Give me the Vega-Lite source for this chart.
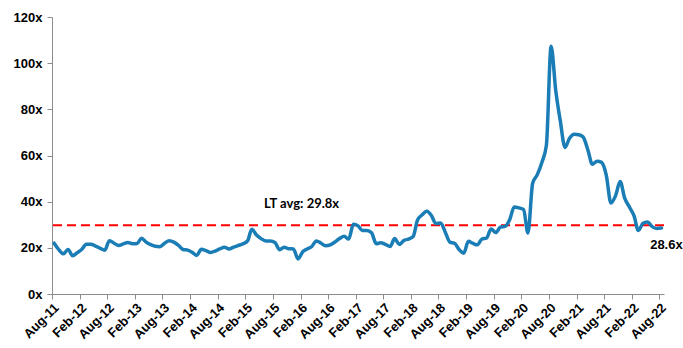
{
  "$schema": "https://vega.github.io/schema/vega-lite/v6.json",
  "width": 612,
  "height": 277,
  "autosize": {"type": "none"},
  "padding": {"left": 52, "top": 17, "right": 19, "bottom": 54},
  "background": "white",
  "config": {
    "view": {"stroke": null},
    "axis": {
      "grid": false,
      "labelFont": "Liberation Sans",
      "labelFontWeight": "bold",
      "labelColor": "#000000",
      "domainColor": "#8c8c8c",
      "tickColor": "#8c8c8c",
      "tickSize": 5,
      "title": null
    }
  },
  "datasets": {
    "pe": [
      {"date": "2011-08-15", "pe": 22.0}, {"date": "2011-09-15", "pe": 19.2}, {"date": "2011-10-15", "pe": 17.4}, {"date": "2011-11-15", "pe": 19.3}, {"date": "2011-12-15", "pe": 16.6},
      {"date": "2012-01-15", "pe": 17.9}, {"date": "2012-02-15", "pe": 19.4}, {"date": "2012-03-15", "pe": 21.6}, {"date": "2012-04-15", "pe": 21.6}, {"date": "2012-05-15", "pe": 20.7}, {"date": "2012-06-15", "pe": 19.8},
      {"date": "2012-07-15", "pe": 19.0}, {"date": "2012-08-15", "pe": 23.1}, {"date": "2012-09-15", "pe": 22.0}, {"date": "2012-10-15", "pe": 21.0}, {"date": "2012-11-15", "pe": 21.7}, {"date": "2012-12-15", "pe": 22.3},
      {"date": "2013-01-15", "pe": 21.8}, {"date": "2013-02-15", "pe": 21.9}, {"date": "2013-03-15", "pe": 24.2}, {"date": "2013-04-15", "pe": 22.5}, {"date": "2013-05-15", "pe": 21.4}, {"date": "2013-06-15", "pe": 20.7},
      {"date": "2013-07-15", "pe": 20.5}, {"date": "2013-08-15", "pe": 22.0}, {"date": "2013-09-15", "pe": 23.1}, {"date": "2013-10-15", "pe": 22.5}, {"date": "2013-11-15", "pe": 21.1}, {"date": "2013-12-15", "pe": 19.3},
      {"date": "2014-01-15", "pe": 19.0}, {"date": "2014-02-15", "pe": 18.0}, {"date": "2014-03-15", "pe": 16.7}, {"date": "2014-04-15", "pe": 19.4}, {"date": "2014-05-15", "pe": 18.8}, {"date": "2014-06-15", "pe": 18.0},
      {"date": "2014-07-15", "pe": 18.6}, {"date": "2014-08-15", "pe": 19.5}, {"date": "2014-09-15", "pe": 20.3}, {"date": "2014-10-15", "pe": 19.5}, {"date": "2014-11-15", "pe": 20.3}, {"date": "2014-12-15", "pe": 21.0},
      {"date": "2015-01-15", "pe": 21.7}, {"date": "2015-02-15", "pe": 23.0}, {"date": "2015-03-15", "pe": 28.0}, {"date": "2015-04-15", "pe": 25.6}, {"date": "2015-05-15", "pe": 24.0}, {"date": "2015-06-15", "pe": 23.0},
      {"date": "2015-07-15", "pe": 23.0}, {"date": "2015-08-15", "pe": 22.3}, {"date": "2015-09-15", "pe": 19.2}, {"date": "2015-10-15", "pe": 20.3}, {"date": "2015-11-15", "pe": 19.6}, {"date": "2015-12-15", "pe": 19.5},
      {"date": "2016-01-15", "pe": 15.2}, {"date": "2016-02-15", "pe": 18.3}, {"date": "2016-03-15", "pe": 19.5}, {"date": "2016-04-15", "pe": 20.6}, {"date": "2016-05-15", "pe": 23.0}, {"date": "2016-06-15", "pe": 22.0},
      {"date": "2016-07-15", "pe": 20.9}, {"date": "2016-08-15", "pe": 21.3}, {"date": "2016-09-15", "pe": 22.5}, {"date": "2016-10-15", "pe": 24.0}, {"date": "2016-11-15", "pe": 25.0}, {"date": "2016-12-15", "pe": 23.8},
      {"date": "2017-01-15", "pe": 30.2}, {"date": "2017-02-15", "pe": 29.5}, {"date": "2017-03-15", "pe": 27.5}, {"date": "2017-04-15", "pe": 27.5}, {"date": "2017-05-15", "pe": 26.5}, {"date": "2017-06-15", "pe": 21.8},
      {"date": "2017-07-15", "pe": 22.2}, {"date": "2017-08-15", "pe": 21.5}, {"date": "2017-09-15", "pe": 20.6}, {"date": "2017-10-15", "pe": 24.0}, {"date": "2017-11-15", "pe": 21.5}, {"date": "2017-12-15", "pe": 23.2},
      {"date": "2018-01-15", "pe": 23.8}, {"date": "2018-02-15", "pe": 25.0}, {"date": "2018-03-15", "pe": 32.0}, {"date": "2018-04-15", "pe": 34.3}, {"date": "2018-05-15", "pe": 35.8}, {"date": "2018-06-15", "pe": 34.0},
      {"date": "2018-07-15", "pe": 30.5}, {"date": "2018-08-15", "pe": 30.8}, {"date": "2018-09-15", "pe": 26.8}, {"date": "2018-10-15", "pe": 22.5}, {"date": "2018-11-15", "pe": 22.0}, {"date": "2018-12-15", "pe": 19.3},
      {"date": "2019-01-15", "pe": 17.7}, {"date": "2019-02-15", "pe": 22.8}, {"date": "2019-03-15", "pe": 22.0}, {"date": "2019-04-15", "pe": 21.3}, {"date": "2019-05-15", "pe": 23.8}, {"date": "2019-06-15", "pe": 24.2},
      {"date": "2019-07-15", "pe": 28.2}, {"date": "2019-08-15", "pe": 26.6}, {"date": "2019-09-15", "pe": 29.0}, {"date": "2019-10-15", "pe": 29.3}, {"date": "2019-11-15", "pe": 32.2}, {"date": "2019-12-15", "pe": 37.7},
      {"date": "2020-01-15", "pe": 37.3}, {"date": "2020-02-15", "pe": 36.5}, {"date": "2020-03-15", "pe": 26.4}, {"date": "2020-04-15", "pe": 48.0}, {"date": "2020-05-15", "pe": 51.6}, {"date": "2020-06-15", "pe": 57.0},
      {"date": "2020-07-15", "pe": 64.5}, {"date": "2020-08-15", "pe": 107.3}, {"date": "2020-09-15", "pe": 88.0}, {"date": "2020-10-15", "pe": 75.0}, {"date": "2020-11-15", "pe": 63.5}, {"date": "2020-12-15", "pe": 67.5},
      {"date": "2021-01-15", "pe": 69.2}, {"date": "2021-02-15", "pe": 69.0}, {"date": "2021-03-15", "pe": 68.0}, {"date": "2021-04-15", "pe": 62.5}, {"date": "2021-05-15", "pe": 56.2}, {"date": "2021-06-15", "pe": 57.5},
      {"date": "2021-07-15", "pe": 57.0}, {"date": "2021-08-15", "pe": 51.5}, {"date": "2021-09-15", "pe": 39.4}, {"date": "2021-10-15", "pe": 42.5}, {"date": "2021-11-15", "pe": 48.7}, {"date": "2021-12-15", "pe": 41.5},
      {"date": "2022-01-15", "pe": 37.7}, {"date": "2022-02-15", "pe": 33.8}, {"date": "2022-03-15", "pe": 27.5}, {"date": "2022-04-15", "pe": 30.6}, {"date": "2022-05-15", "pe": 31.2}, {"date": "2022-06-15", "pe": 29.2},
      {"date": "2022-07-15", "pe": 28.4}, {"date": "2022-08-15", "pe": 28.6}
    ],
    "avg": [{"date": "2016-02-07", "pe": 29.8, "label": "LT avg: 29.8x"}],
    "latest": [{"date": "2022-08-15", "pe": 28.6, "label": "28.6x"}]
  },
  "encoding": {
    "x": {
      "field": "date",
      "type": "temporal",
      "scale": {
        "type": "utc",
        "domain": [
          {"year": 2011, "month": "aug", "date": 1, "utc": true},
          {"year": 2022, "month": "sep", "date": 1, "utc": true}
        ]
      },
      "axis": {
        "values": [
          {"year": 2011, "month": "aug", "date": 1, "utc": true},
          {"year": 2012, "month": "feb", "date": 1, "utc": true},
          {"year": 2012, "month": "aug", "date": 1, "utc": true},
          {"year": 2013, "month": "feb", "date": 1, "utc": true},
          {"year": 2013, "month": "aug", "date": 1, "utc": true},
          {"year": 2014, "month": "feb", "date": 1, "utc": true},
          {"year": 2014, "month": "aug", "date": 1, "utc": true},
          {"year": 2015, "month": "feb", "date": 1, "utc": true},
          {"year": 2015, "month": "aug", "date": 1, "utc": true},
          {"year": 2016, "month": "feb", "date": 1, "utc": true},
          {"year": 2016, "month": "aug", "date": 1, "utc": true},
          {"year": 2017, "month": "feb", "date": 1, "utc": true},
          {"year": 2017, "month": "aug", "date": 1, "utc": true},
          {"year": 2018, "month": "feb", "date": 1, "utc": true},
          {"year": 2018, "month": "aug", "date": 1, "utc": true},
          {"year": 2019, "month": "feb", "date": 1, "utc": true},
          {"year": 2019, "month": "aug", "date": 1, "utc": true},
          {"year": 2020, "month": "feb", "date": 1, "utc": true},
          {"year": 2020, "month": "aug", "date": 1, "utc": true},
          {"year": 2021, "month": "feb", "date": 1, "utc": true},
          {"year": 2021, "month": "aug", "date": 1, "utc": true},
          {"year": 2022, "month": "feb", "date": 1, "utc": true},
          {"year": 2022, "month": "aug", "date": 1, "utc": true}
        ],
        "labelExpr": "utcFormat(datum.value, '%b-%y')",
        "labelAngle": -45,
        "labelFontSize": 13,
        "labelPadding": 2,
        "labelOverlap": false,
        "labelBound": false,
        "labelFlush": false
      }
    },
    "y": {
      "field": "pe",
      "type": "quantitative",
      "scale": {"domain": [0, 120], "nice": false},
      "axis": {
        "values": [0, 20, 40, 60, 80, 100, 120],
        "labelExpr": "datum.value + 'x'",
        "labelFontSize": 13,
        "labelPadding": 5
      }
    }
  },
  "layer": [
    {
      "data": {"name": "avg"},
      "mark": {"type": "rule", "color": "#ff0000", "strokeWidth": 2, "strokeDash": [9, 5]},
      "encoding": {"x": null, "y": {"field": "pe", "type": "quantitative"}}
    },
    {
      "data": {"name": "pe"},
      "mark": {"type": "line", "color": "#1a7db5", "strokeWidth": 3.5, "interpolate": "monotone", "strokeCap": "round", "strokeJoin": "round"},
      "encoding": {}
    },
    {
      "data": {"name": "avg"},
      "mark": {"type": "text", "font": "Lato", "fontWeight": "bold", "fontSize": 13, "color": "#000000", "dy": -21, "align": "center", "baseline": "middle"},
      "encoding": {"text": {"field": "label"}}
    },
    {
      "data": {"name": "latest"},
      "mark": {"type": "text", "font": "Liberation Sans", "fontWeight": "bold", "fontSize": 13, "color": "#000000", "dx": 5, "dy": 17, "align": "center", "baseline": "middle"},
      "encoding": {"text": {"field": "label"}}
    }
  ]
}
